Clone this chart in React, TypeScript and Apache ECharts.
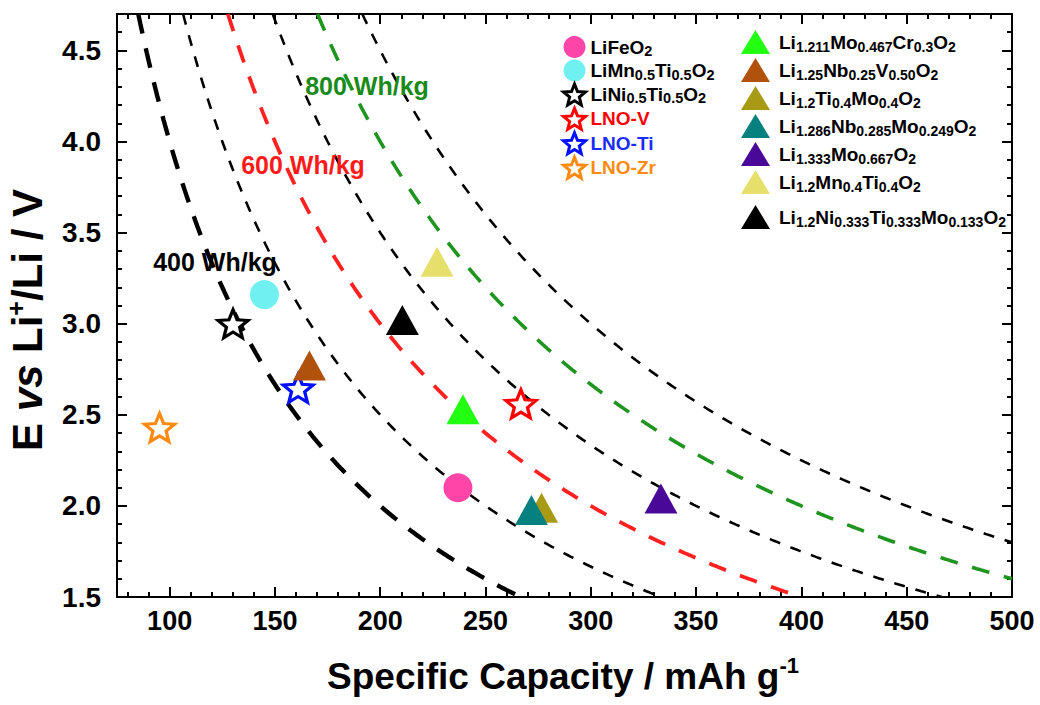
import React, { useEffect, useRef } from 'react';
import * as echarts from 'echarts';

const FONT = '"Liberation Sans", Arial, Helvetica, sans-serif';

// ---- data ----
const compoundNames = [
  'LiFeO2',
  'LiMn0.5Ti0.5O2',
  'LiNi0.5Ti0.5O2',
  'LNO-V',
  'LNO-Ti',
  'LNO-Zr',
  'Li1.211Mo0.467Cr0.3O2',
  'Li1.25Nb0.25V0.50O2',
  'Li1.2Ti0.4Mo0.4O2',
  'Li1.286Nb0.285Mo0.249O2',
  'Li1.333Mo0.667O2',
  'Li1.2Mn0.4Ti0.4O2',
  'Li1.2Ni0.333Ti0.333Mo0.133O2',
];
const legendLabels = [
  'LiFeO{s|2}',
  'LiMn{s|0.5}Ti{s|0.5}O{s|2}',
  'LiNi{s|0.5}Ti{s|0.5}O{s|2}',
  'LNO-V',
  'LNO-Ti',
  'LNO-Zr',
  'Li{s|1.211}Mo{s|0.467}Cr{s|0.3}O{s|2}',
  'Li{s|1.25}Nb{s|0.25}V{s|0.50}O{s|2}',
  'Li{s|1.2}Ti{s|0.4}Mo{s|0.4}O{s|2}',
  'Li{s|1.286}Nb{s|0.285}Mo{s|0.249}O{s|2}',
  'Li{s|1.333}Mo{s|0.667}O{s|2}',
  'Li{s|1.2}Mn{s|0.4}Ti{s|0.4}O{s|2}',
  'Li{s|1.2}Ni{s|0.333}Ti{s|0.333}Mo{s|0.133}O{s|2}',
];
const capacity = [236.9, 145.0, 130.1, 266.8, 161.0, 95.2, 239.3, 166.4, 276.6, 271.8, 333.3, 227.0, 210.5];
const voltage = [2.1, 3.16, 3.0, 2.56, 2.646, 2.43, 2.53, 2.77, 1.99, 1.977, 2.04, 3.34, 3.02];
const markerShape = ['circle', 'circle', 'star', 'star', 'star', 'star', 'triangle', 'triangle', 'triangle', 'triangle', 'triangle', 'triangle', 'triangle'];
const markerColor = ['#ff45a8', '#70f0f0', '#000000', '#ff0000', '#0010ff', '#ff8a10', '#22ff11', '#b0520c', '#a89a14', '#078080', '#4a0898', '#e6df6c', '#000000'];
const legendTextColor = ['#000', '#000', '#000', '#ff0000', '#1a2cff', '#ff8a10', '#000', '#000', '#000', '#000', '#000', '#000', '#000'];

const energies = [400, 500, 600, 700, 800, 900];
const energyColor = ['#000000', '#000000', '#ff2020', '#000000', '#1f951f', '#000000'];
const energyWidth = [4.4, 2.6, 3.8, 2.6, 3.6, 2.6];
const energyDash = [[20, 15], [11, 11], [18, 15], [11, 11], [18, 15], [11, 11]];
const energyLabels = ['400 Wh/kg', '600 Wh/kg', '800 Wh/kg'];
const energyLabelColor = ['#000000', '#ff1a1a', '#1a8a1a'];

const xMajor = [100, 150, 200, 250, 300, 350, 400, 450, 500];
const xMinor = [80, 90, 110, 120, 130, 140, 160, 170, 180, 190, 210, 220, 230, 240, 260, 270, 280, 290, 310, 320, 330, 340, 360, 370, 380, 390, 410, 420, 430, 440, 460, 470, 480, 490];
const yMajor = [1.5, 2.0, 2.5, 3.0, 3.5, 4.0, 4.5];
const yMinor = [1.6, 1.7, 1.8, 1.9, 2.1, 2.2, 2.3, 2.4, 2.6, 2.7, 2.8, 2.9, 3.1, 3.2, 3.3, 3.4, 3.6, 3.7, 3.8, 3.9, 4.1, 4.2, 4.3, 4.4, 4.6];
const X_MIN = 75, X_MAX = 500, Y_MIN = 1.5, Y_MAX = 4.7;

const STAR = 'path://M50,0 L62.93,32.2 L97.55,34.55 L70.92,56.8 L79.39,90.45 L50,72 L20.61,90.45 L29.08,56.8 L2.45,34.55 L37.07,32.2 Z';

function curvePoints(e: number) {
  const pts: number[][] = [];
  const start = e / Y_MAX;
  const end = Math.min(X_MAX, e / Y_MIN);
  for (let x = start; x <= end + 0.001; x += 1) pts.push([x, e / x]);
  pts.push([end, e / end]);
  return pts;
}

function buildOption() {
  const tickLine = { color: '#000', width: 2 };
  const xBase = { type: 'value', min: X_MIN, max: X_MAX, splitLine: { show: false }, axisLine: { show: true, onZero: false, lineStyle: tickLine } };
  const yBase = { type: 'value', min: Y_MIN, max: Y_MAX, splitLine: { show: false }, axisLine: { show: true, onZero: false, lineStyle: tickLine } };
  const tick = (vals: number[], len: number) => ({ show: true, inside: true, length: len, lineStyle: { color: '#000', width: 2 }, customValues: vals });
  const axisLabelStyle = { color: '#000', fontFamily: FONT, fontWeight: 'bold' };

  const xAxis = [
    { ...xBase, position: 'bottom', axisTick: tick(xMajor, 10), axisLabel: { ...axisLabelStyle, fontSize: 27, customValues: xMajor, margin: 10 } },
    { ...xBase, position: 'bottom', axisLine: { show: false }, axisTick: tick(xMinor, 5), axisLabel: { show: false } },
    { ...xBase, position: 'top', axisTick: tick(xMajor, 10), axisLabel: { show: false } },
    { ...xBase, position: 'top', axisLine: { show: false }, axisTick: tick(xMinor, 5), axisLabel: { show: false } },
  ];
  const yAxis = [
    { ...yBase, position: 'left', axisTick: tick(yMajor, 10), axisLabel: { ...axisLabelStyle, fontSize: 28, customValues: yMajor, margin: 16, formatter: (v: number) => v.toFixed(1) } },
    { ...yBase, position: 'left', axisLine: { show: false }, axisTick: tick(yMinor, 5), axisLabel: { show: false } },
    { ...yBase, position: 'right', axisTick: tick(yMajor, 10), axisLabel: { show: false } },
    { ...yBase, position: 'right', axisLine: { show: false }, axisTick: tick(yMinor, 5), axisLabel: { show: false } },
  ];

  const curveSeries = energies.map((e, i) => ({
    type: 'line',
    name: e + ' Wh/kg curve',
    data: curvePoints(e),
    showSymbol: false,
    silent: true,
    z: 2,
    lineStyle: { color: energyColor[i], width: energyWidth[i], type: energyDash[i] },
  }));

  const pointSeries = compoundNames.map((name, i) => {
    const shape = markerShape[i];
    const isStar = shape === 'star';
    return {
      type: 'scatter',
      name,
      z: 5,
      data: [[capacity[i], voltage[i]]],
      symbol: isStar ? STAR : shape,
      symbolSize: shape === 'circle' ? 29 : shape === 'triangle' ? [33, 30] : [30, 28],
      itemStyle: isStar
        ? { color: '#ffffff', borderColor: markerColor[i], borderWidth: 3.2, opacity: 1 }
        : { color: markerColor[i], opacity: 1 },
    };
  });

  const makeTextStyle = (size: number, sub: number, lh: number, subLh: number, padLeft: number) => ({
    fontFamily: FONT,
    fontSize: size,
    fontWeight: 'bold',
    color: '#000',
    lineHeight: lh,
    padding: [0, 0, 0, padLeft],
    rich: {
      s: { fontFamily: FONT, fontSize: sub, fontWeight: 'bold', lineHeight: subLh, verticalAlign: 'bottom' },
    },
  });
  const fmt = (name: string) => legendLabels[compoundNames.indexOf(name)];
  const legendData = (idx: number[]) =>
    idx.map((i) => ({
      name: compoundNames[i],
      textStyle: { color: legendTextColor[i] },
      itemStyle: markerShape[i] === 'star' ? { borderWidth: 3, opacity: 1 } : { opacity: 1 },
    }));

  const legendCommon = {
    orient: 'vertical',
    padding: 0,
    selectedMode: false,
    formatter: fmt,
  };

  const legend = [
    { ...legendCommon, left: 562, top: 35.5, itemWidth: 22, itemHeight: 22, itemGap: 0.5, textStyle: makeTextStyle(19, 14.5, 23, 11, 0), data: legendData([0, 1, 2, 3, 4, 5]) },
    { ...legendCommon, left: 741, top: 30, itemWidth: 29, itemHeight: 24, itemGap: 4, textStyle: makeTextStyle(19, 14, 24, 12, 4), data: legendData([6, 7, 8, 9, 10, 11]) },
    { ...legendCommon, left: 741, top: 205, itemWidth: 29, itemHeight: 24, itemGap: 4, textStyle: makeTextStyle(19, 14, 24, 12, 4), data: legendData([12]) },
  ];

  const labelPos = [[215, 262], [303, 165], [367, 86]];
  const graphic = [
    ...energyLabels.map((t, i) => ({
      type: 'text',
      x: labelPos[i][0],
      y: labelPos[i][1],
      z: 10,
      style: { text: t, fill: energyLabelColor[i], fontFamily: FONT, fontWeight: 'bold', fontSize: 25, align: 'center', verticalAlign: 'middle' },
    })),
    {
      type: 'text',
      x: 563,
      y: 676,
      style: {
        text: 'Specific Capacity / mAh g{sup|-1}',
        fill: '#000', fontFamily: FONT, fontWeight: 'bold', fontSize: 37, lineHeight: 44,
        align: 'center', verticalAlign: 'middle',
        rich: { sup: { fontFamily: FONT, fontWeight: 'bold', fontSize: 22, lineHeight: 22, verticalAlign: 'top' } },
      },
    },
    {
      type: 'text',
      x: 27,
      y: 320,
      rotation: Math.PI / 2,
      style: {
        text: 'E {it|vs} Li{sup|+}/Li / V',
        fill: '#000', fontFamily: FONT, fontWeight: 'bold', fontSize: 42, lineHeight: 48,
        align: 'center', verticalAlign: 'middle',
        rich: {
          it: { fontFamily: FONT, fontWeight: 'bold', fontStyle: 'italic', fontSize: 42, lineHeight: 48 },
          sup: { fontFamily: FONT, fontWeight: 'bold', fontSize: 25, lineHeight: 25, verticalAlign: 'top' },
        },
      },
    },
  ];

  return {
    animation: false,
    backgroundColor: '#ffffff',
    grid: { left: 117, right: 28, top: 14, bottom: 108, show: true, borderColor: '#000', borderWidth: 2, containLabel: false },
    xAxis,
    yAxis,
    legend,
    graphic,
    series: [...curveSeries, ...pointSeries],
  };
}

export default function App() {
  const ref = useRef<HTMLDivElement>(null);
  useEffect(() => {
    if (!ref.current) return;
    const chart = echarts.init(ref.current, null, { renderer: 'svg' });
    chart.setOption(buildOption() as any);
    return () => chart.dispose();
  }, []);
  return <div ref={ref} style={{ position: 'absolute', left: 0, top: 0, width: 1040, height: 705 }} />;
}
